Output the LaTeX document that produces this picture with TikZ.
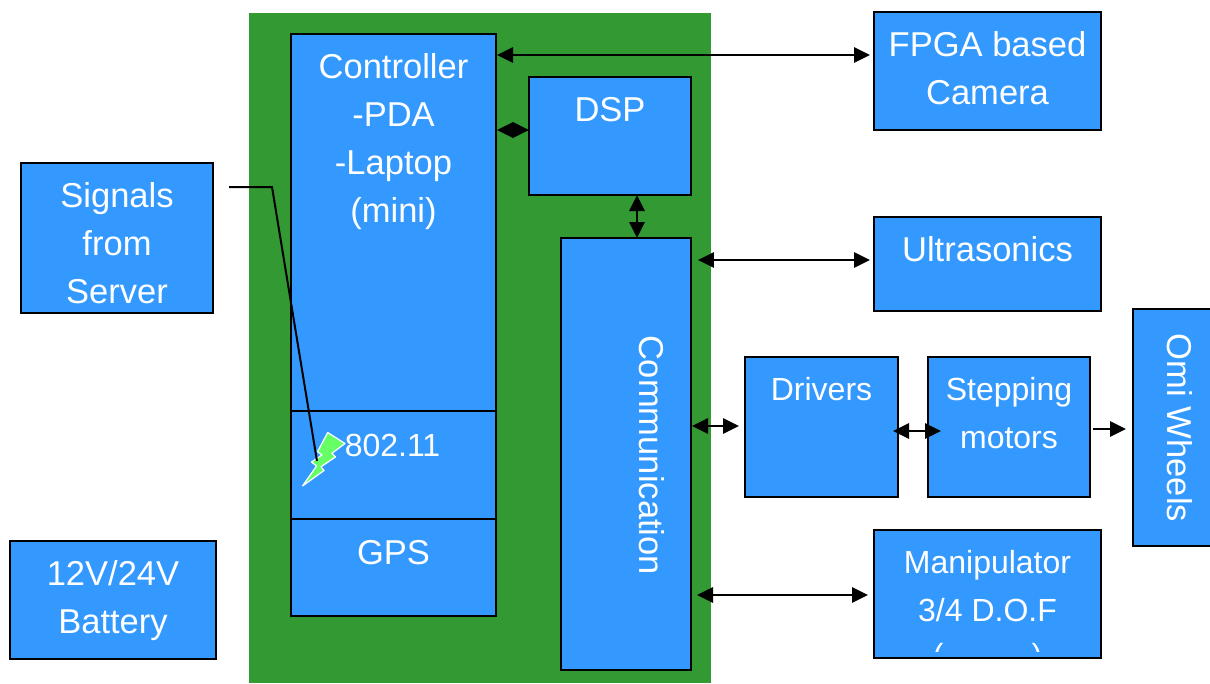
\documentclass[tikz,border=0pt]{standalone}
\usepackage{fontspec}
\setmainfont{Liberation Sans}
\usetikzlibrary{arrows.meta}
\definecolor{panelgreen}{HTML}{339933}
\definecolor{boxblue}{HTML}{3399FF}
\definecolor{boltgreen}{HTML}{66FF66}
\newcommand{\bx}[5]{\node[blk,minimum width={(#4-#2)*0.75pt},minimum height={(#5-#3)*0.75pt}] (#1) at (#2,#3) {};}
\tikzset{
  blk/.style={draw=black,fill=boxblue,line width=1.5pt,anchor=north west,inner sep=0pt,outer sep=0pt},
  lbl/.style={text=white,align=center,inner sep=0pt,anchor=north,font=\fontsize{25.9}{36}\selectfont,execute at begin node=\strut},
  lblsm/.style={lbl,font=\fontsize{24}{36}\selectfont},
  lblrot/.style={text=white,inner sep=0pt,anchor=center,rotate=-90,font=\fontsize{25.9}{36}\selectfont},
  link/.style={line width=1.5pt,draw=black,{Triangle[length=12pt,width=11.5pt]}-{Triangle[length=12pt,width=11.5pt]}},
  linkone/.style={line width=1.5pt,draw=black,-{Triangle[length=12pt,width=11.5pt]}},
  wire/.style={line width=1.5pt,draw=black,line join=miter}
}
\begin{document}
\begin{tikzpicture}[x=0.75pt,y=-0.75pt]
\clip (0,0) rectangle (1210,683);
\fill[white] (0,0) rectangle (1210,683);
\node[fill=panelgreen,anchor=north west,inner sep=0pt,outer sep=0pt,minimum width={462*0.75pt},minimum height={670*0.75pt}] (panel) at (249,13) {};
\bx{ctrl}{291}{34}{496}{411}
\bx{wifi}{291}{411}{496}{519}
\bx{gps}{291}{519}{496}{616}
\bx{dsp}{529}{77}{691}{195}
\bx{comm}{561}{238}{691}{670}
\bx{fpga}{874}{12}{1101}{130}
\bx{ultra}{874}{217}{1101}{311}
\bx{drv}{745}{357}{898}{497}
\bx{step}{928}{357}{1090}{497}
\bx{omi}{1133}{309}{1214}{546}
\bx{manip}{874}{530}{1101}{658}
\bx{sig}{21}{163}{213}{313}
\bx{batt}{10}{541}{216}{659}
% labels
\node[lbl] (tctrl) at (393.5,53.4) {Controller\\-PDA\\-Laptop\\(mini)};
\node[lblsm] (twifi) at (392.5,422.4) {802.11};
\node[lbl] (tgps) at (393.5,530.4) {GPS};
\node[lbl] (tdsp) at (610,87.4) {DSP};
\node[lbl] (tfpga) at (987.5,31.4) {FPGA based\\Camera};
\node[lbl] (tultra) at (987.5,227.4) {Ultrasonics};
\node[lblsm] (tdrv) at (821.5,366.4) {Drivers};
\node[lblsm] (tstep) at (1009,377.5) {Stepping\\motors};
\node[lblsm] (tmanip) at (987.5,550.5) {Manipulator\\3/4 D.O.F};
\begin{scope}
\clip (874,600) rectangle (1101,651);
\node[lblsm] (tmanipb) at (987.5,632.4) {(\hspace{66pt})};
\end{scope}
\node[lbl] (tsig) at (117,182.4) {Signals\\from\\Server};
\node[lbl] (tbatt) at (113,560.4) {12V/24V\\Battery};
\node[lblrot] (tcomm) at (652,455) {Communication};
\node[lblrot] (tomi) at (1180,428) {Omi Wheels};
% wireless bolt
\draw[fill=boltgreen,draw=white,line width=0.9pt,line join=round]
 (302.5,486)--(324,470.5)--(321,466.7)--(335.5,457)--(332,453.3)--(345,443.5)--(327.7,432.5)--(317.5,451.7)--(322,455)--(311.5,462)--(316.5,466)--cycle;
\coordinate (sigout) at (229,187);
\coordinate (sigknee) at (272,187);
\coordinate (sigend) at (317,461);
\draw[wire] (sigout)--(sigknee)--(sigend);
% connector rows
\coordinate (r1) at (0,55);
\coordinate (r2) at (0,130);
\coordinate (c3) at (637,0);
\coordinate (r4) at (0,260);
\coordinate (r5) at (0,426);
\coordinate (r6) at (0,431);
\coordinate (r7) at (0,429);
\coordinate (r8) at (0,595);
\draw[link,shorten >=3pt,shorten <=0.75pt] (ctrl.east|-r1)--(fpga.west|-r1);
\draw[link,shorten <=0.75pt] (ctrl.east|-r2)--(dsp.west|-r2);
\draw[link] (c3|-dsp.south)--(c3|-comm.north);
\draw[link,shorten <=5.2pt,shorten >=3pt] (comm.east|-r4)--(ultra.west|-r4);
\draw[link,shorten <=0.75pt,shorten >=4.5pt] (comm.east|-r5)--(drv.west|-r5);
\draw[link,shorten <=-3.75pt,shorten >=-9.75pt] (drv.east|-r6)--(step.west|-r6);
\draw[linkone,shorten <=2.25pt,shorten >=5.25pt] (step.east|-r7)--(omi.west|-r7);
\draw[link,shorten <=4.5pt,shorten >=4.5pt] (comm.east|-r8)--(manip.west|-r8);
\end{tikzpicture}
\end{document}
